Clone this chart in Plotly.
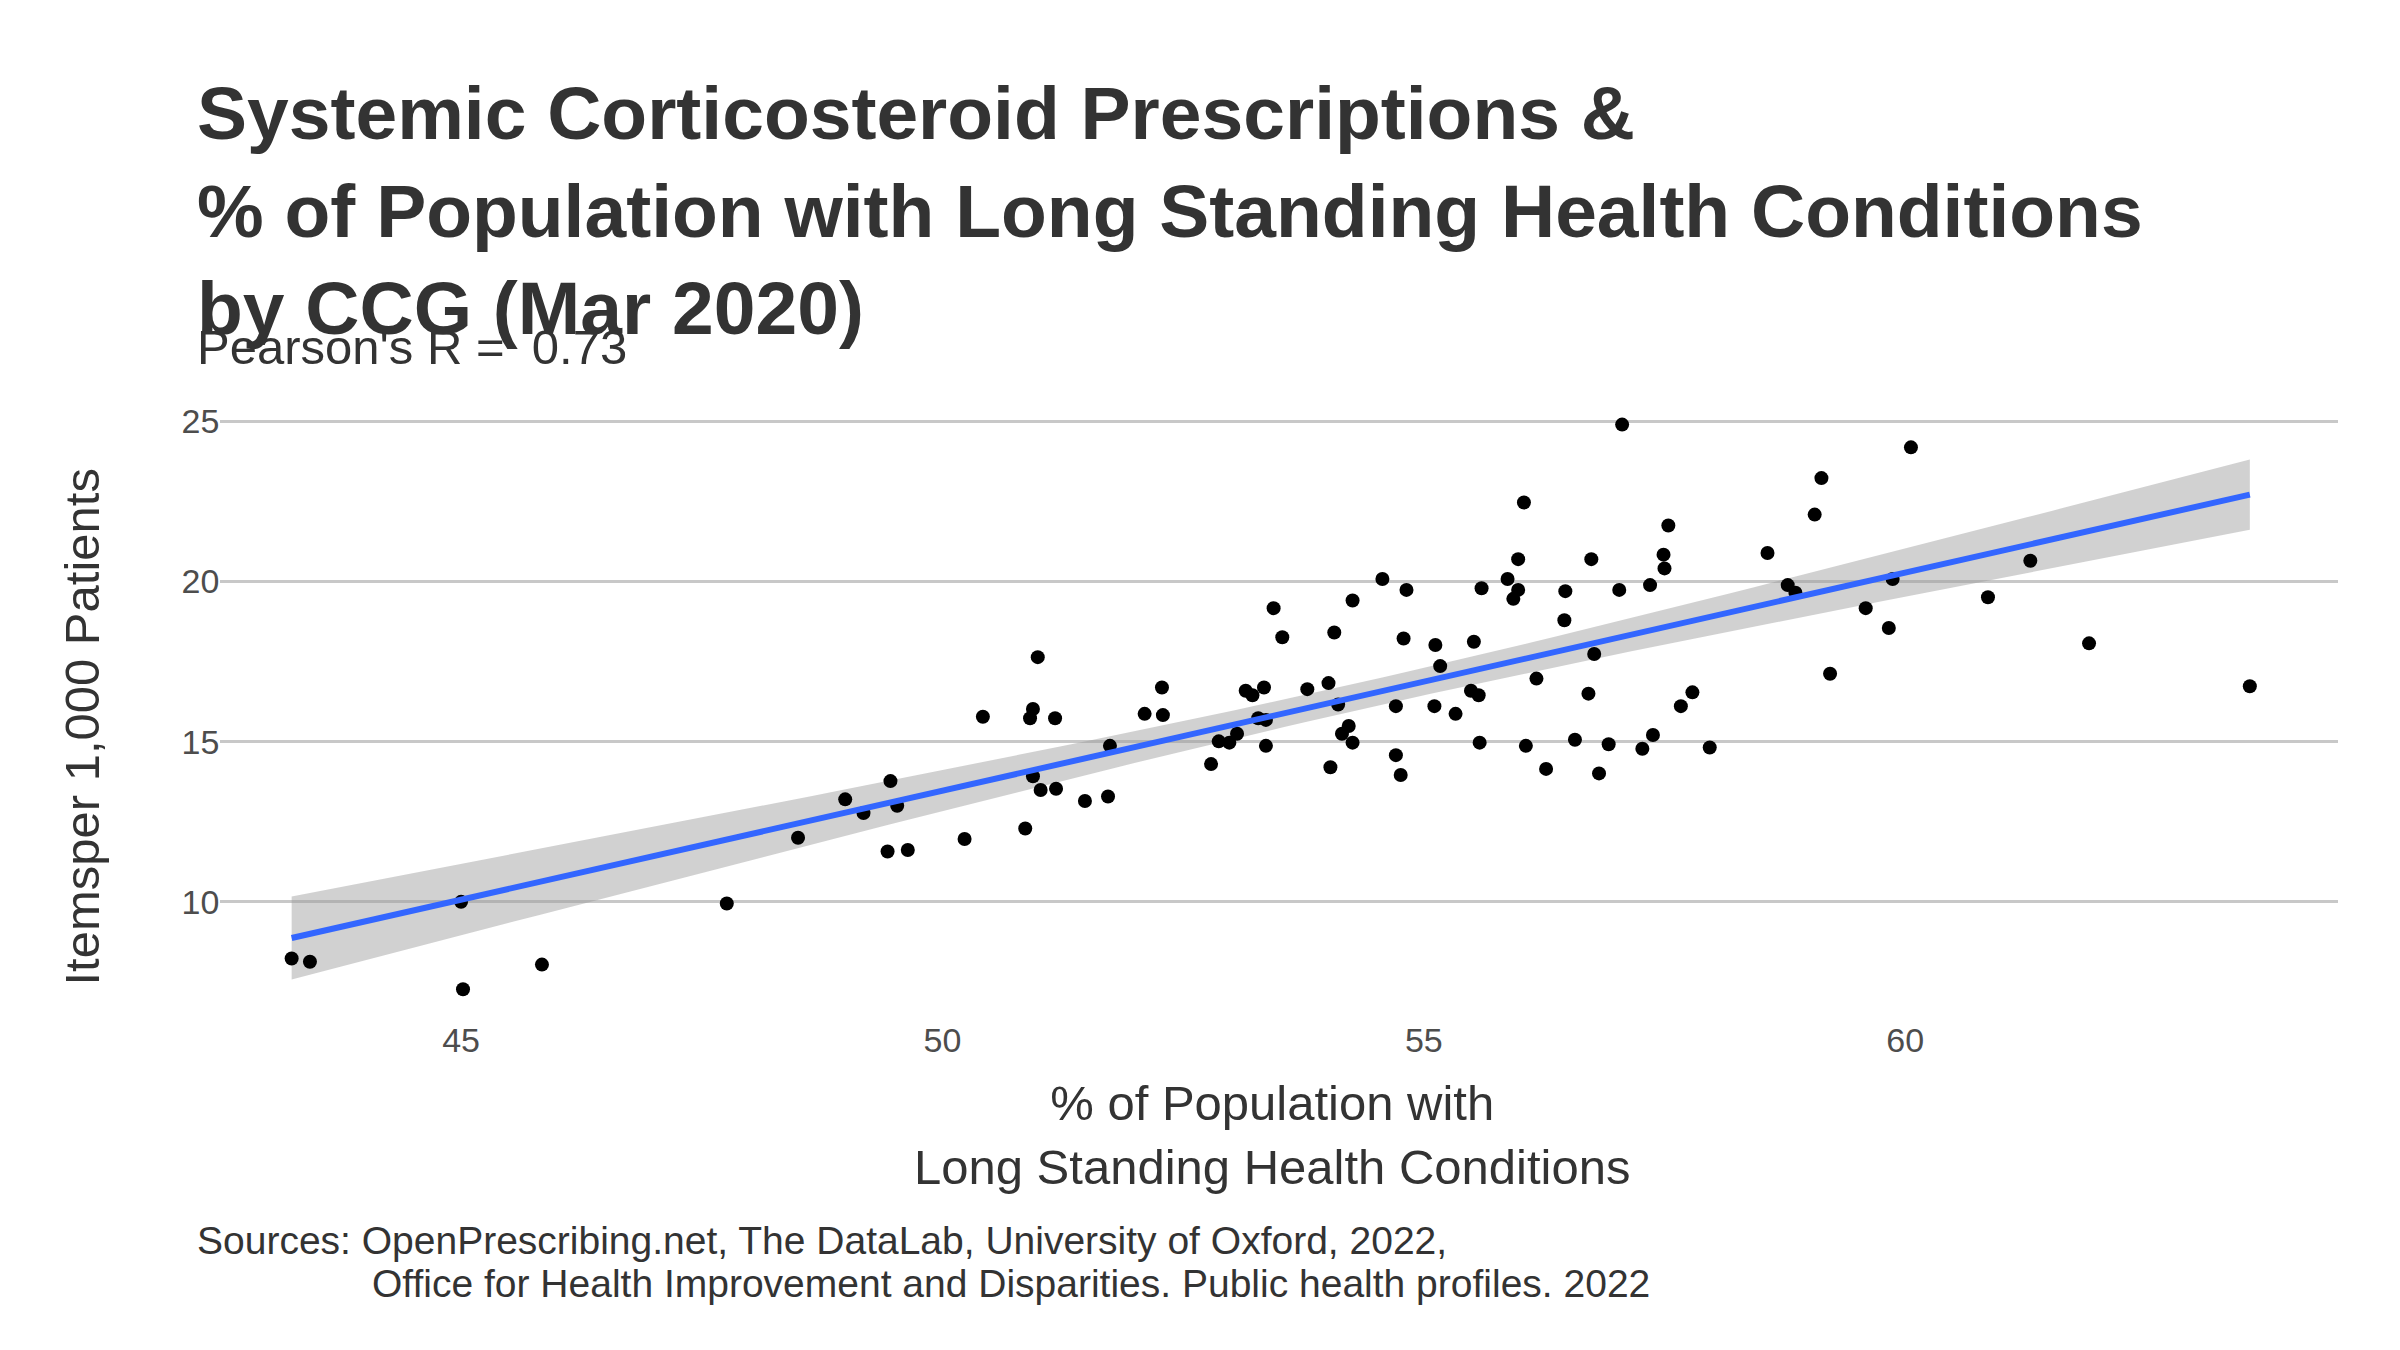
import numpy as np
import plotly.graph_objects as go

ltc_pct = [43.24,43.43,45.0,45.02,45.84,47.76,48.50,48.99,49.18,49.43,49.46,49.53,49.64,50.23,50.42,50.86,50.91,50.94,50.94,50.99,51.02,51.17,51.18,51.48,51.72,51.74,52.10,52.28,52.29,52.79,52.87,52.98,53.06,53.15,53.22,53.28,53.34,53.36,53.36,53.44,53.53,53.79,54.01,54.03,54.07,54.11,54.15,54.22,54.26,54.26,54.57,54.71,54.71,54.76,54.79,54.82,55.12,55.11,55.17,55.33,55.49,55.52,55.57,55.58,55.60,55.87,55.93,55.98,55.98,56.04,56.06,56.17,56.27,56.46,56.47,56.57,56.71,56.74,56.77,56.82,56.92,57.03,57.06,57.27,57.35,57.38,57.49,57.50,57.54,57.67,57.79,57.97,58.57,58.78,58.86,59.06,59.13,59.22,59.59,59.83,59.87,60.06,60.86,61.30,61.91,63.58]
items_per_1000 = [8.23,8.13,10.0,7.27,8.04,9.95,12.0,13.2,12.77,11.57,13.77,13.0,11.62,11.96,15.78,12.29,15.73,16.02,13.92,17.64,13.49,15.73,13.53,13.15,13.29,14.87,15.87,16.69,15.83,14.30,15.01,14.97,15.25,16.59,16.45,15.73,16.69,15.68,14.87,19.17,18.26,16.64,16.83,14.20,18.41,16.16,15.25,15.49,14.97,19.41,20.08,16.11,14.58,13.96,18.22,19.74,18.02,16.11,17.36,15.87,16.59,18.12,16.45,14.97,19.79,20.08,19.46,19.74,20.70,22.47,14.87,16.97,14.15,18.79,19.70,15.06,16.50,20.70,17.74,14.01,14.92,19.74,24.90,14.78,19.89,15.21,20.84,20.41,21.75,16.11,16.54,14.82,20.89,19.89,19.65,22.09,23.23,17.12,19.17,18.55,20.08,24.19,19.51,20.65,18.07,16.73]
pearson_r = 0.73
x_ticks = [45, 50, 55, 60]
y_ticks = [10, 15, 20, 25]

x = np.array(ltc_pct); y = np.array(items_per_1000)
n = len(x)
b, a = np.polyfit(x, y, 1)
xs = np.linspace(x.min(), x.max(), 80)
ys = a + b * xs
resid = y - (a + b * x)
s = np.sqrt(np.sum(resid**2) / (n - 2))
se = s * np.sqrt(1/n + (xs - x.mean())**2 / np.sum((x - x.mean())**2))
t = 1.984

font = "Liberation Sans, Arial, sans-serif"
fig = go.Figure()
fig.add_trace(go.Scatter(x=np.concatenate([xs, xs[::-1]]), y=np.concatenate([ys + t*se, (ys - t*se)[::-1]]),
                         fill="toself", fillcolor="rgba(153,153,153,0.45)", line=dict(width=0), hoverinfo="skip", showlegend=False))
fig.add_trace(go.Scatter(x=x, y=y, mode="markers", marker=dict(color="black", size=14), showlegend=False))
fig.add_trace(go.Scatter(x=xs, y=ys, mode="lines", line=dict(color="#3366FF", width=6), showlegend=False))

fig.update_layout(
    width=2400, height=1350, paper_bgcolor="white", plot_bgcolor="white",
    margin=dict(l=0, r=0, t=0, b=0),
    font=dict(family=font, color="#333333"),
    xaxis=dict(domain=[0.0885, 0.971], range=[42.5, 64.5], tickvals=x_ticks, showgrid=False, zeroline=False,
               ticks="", tickfont=dict(size=34, color="#4d4d4d")),
    yaxis=dict(domain=[0.2525, 0.708], range=[6.4, 25.6], tickvals=y_ticks, showgrid=True, gridcolor="#c8c8c8",
               gridwidth=3, zeroline=False, ticks="", tickfont=dict(size=34, color="#4d4d4d")),
    annotations=[
        dict(text="<b>Systemic Corticosteroid Prescriptions &<br>% of Population with Long Standing Health Conditions<br>by CCG (Mar 2020)</b>",
             x=0.078, y=0.955, xref="paper", yref="paper", xanchor="left", yanchor="top", align="left",
             showarrow=False, font=dict(size=75, color="#333333")),
        dict(text="Pearson's R =  %.2f" % pearson_r, x=0.078, y=0.749, xref="paper", yref="paper", xanchor="left", yanchor="middle",
             showarrow=False, font=dict(size=49, color="#333333")),
        dict(text="% of Population with<br>Long Standing Health Conditions", x=0.5265, y=0.165, xref="paper", yref="paper",
             xanchor="center", yanchor="middle", showarrow=False, font=dict(size=49, color="#333333")),
        dict(text="Itemsper 1,000 Patients", x=0.031, y=0.468, xref="paper", yref="paper", textangle=-90,
             xanchor="center", yanchor="middle", showarrow=False, font=dict(size=49, color="#333333")),
        dict(text="Sources: OpenPrescribing.net, The DataLab, University of Oxford, 2022,", x=0.078, y=0.087, xref="paper", yref="paper",
             xanchor="left", yanchor="middle", showarrow=False, font=dict(size=39, color="#333333")),
        dict(text="Office for Health Improvement and Disparities. Public health profiles. 2022", x=0.151, y=0.055, xref="paper", yref="paper",
             xanchor="left", yanchor="middle", showarrow=False, font=dict(size=39, color="#333333")),
    ],
)
fig.write_html("out.html")
